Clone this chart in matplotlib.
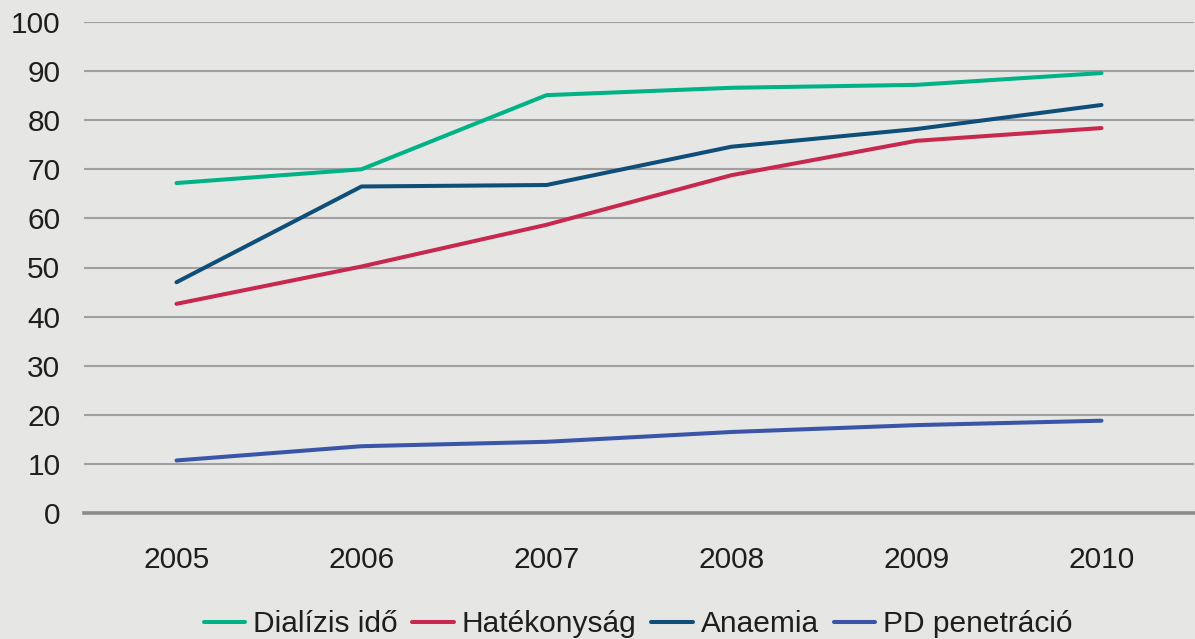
import matplotlib.pyplot as plt
import numpy as np

plt.rcParams['font.family'] = ['Liberation Sans', 'DejaVu Sans']

# Adatok
years = ['2005', '2006', '2007', '2008', '2009', '2010']
dializis_ido = [67.2, 70.0, 85.1, 86.6, 87.2, 89.6]
hatekonysag = [42.6, 50.2, 58.7, 68.8, 75.8, 78.4]
anaemia = [47.0, 66.5, 66.8, 74.6, 78.2, 83.1]
pd_penetracio = [10.7, 13.6, 14.5, 16.5, 17.9, 18.8]

series = [
    ('Dialízis idő', dializis_ido, '#00B386'),
    ('Hatékonyság', hatekonysag, '#C8284E'),
    ('Anaemia', anaemia, '#0E4E78'),
    ('PD penetráció', pd_penetracio, '#3A55A8'),
]

bg = '#E6E6E5'
text_color = '#1E1E1E'

fig = plt.figure(figsize=(11.95, 6.39), dpi=100, facecolor=bg)
ax = fig.add_axes([84 / 1195, 1 - 513 / 639, 1110 / 1195, 491 / 639])
ax.set_facecolor(bg)

x = np.arange(len(years))
for name, vals, color in series:
    ax.plot(x, vals, color=color, linewidth=2.9, solid_capstyle='round',
            label=name, zorder=3)

ax.set_xlim(-0.5, len(years) - 0.5)
ax.set_ylim(0, 100)
ax.set_yticks(np.arange(0, 101, 10))
ax.set_xticks(x)
ax.set_xticklabels(years)

ax.grid(axis='y', color='#A0A0A0', linewidth=1.5, zorder=1)
ax.axhline(0, color='#8C8C8C', linewidth=2.6, zorder=2, clip_on=False)

for s in ax.spines.values():
    s.set_visible(False)
ax.tick_params(axis='both', length=0, labelsize=21.5, colors=text_color)
ax.tick_params(axis='y', pad=17)
ax.tick_params(axis='x', pad=24)

leg = fig.legend(loc='center', bbox_to_anchor=(638 / 1195, 1 - 624 / 639), ncol=4,
                 frameon=False, fontsize=21.5, handlelength=1.4,
                 handletextpad=0.25, columnspacing=0.5, borderpad=0)
for t in leg.get_texts():
    t.set_color(text_color)

fig.savefig('out.png', dpi=100, facecolor=bg)
